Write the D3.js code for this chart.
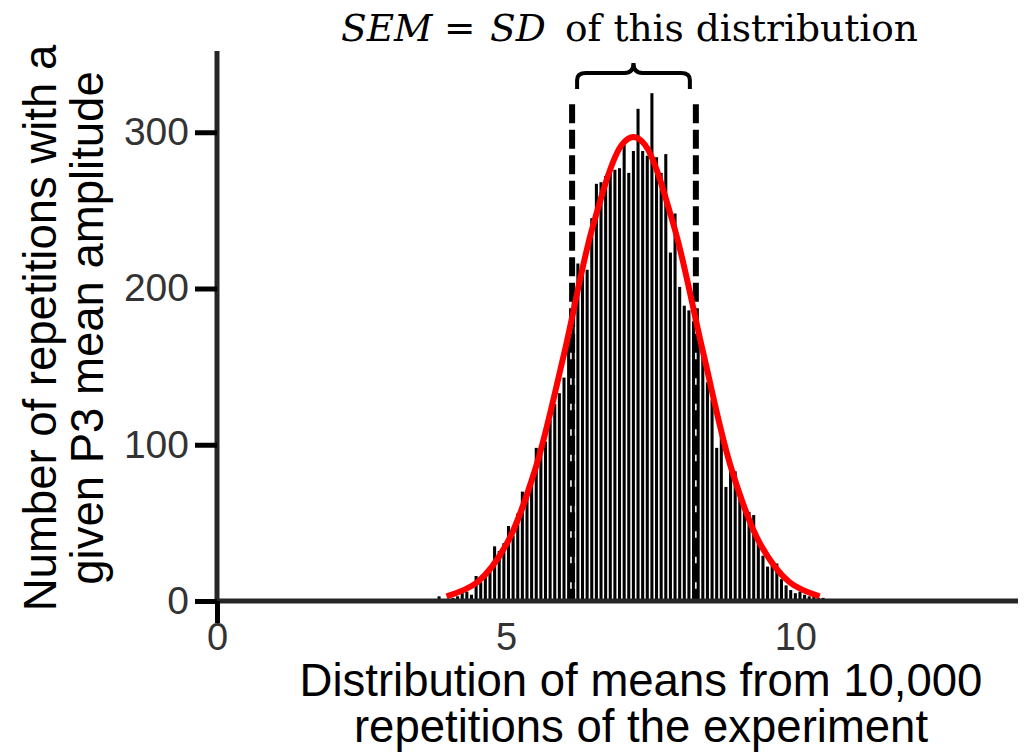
<!DOCTYPE html>
<html>
<head>
<meta charset="utf-8">
<script src="https://cdn.jsdelivr.net/npm/d3@7"></script>
<style>
  html, body { margin: 0; padding: 0; background: #fff; }
  svg { display: block; }
</style>
</head>
<body>
<svg id="chart" width="1024" height="753"></svg>
<script>
// ---- data ----
const binStart = 3.84;      // centre of first bin
const binWidth = 0.08;
const counts = [
  3, 1, 1, 2, 3, 5, 6, 4, 16, 12,
  18, 20, 35, 32, 37, 48, 42, 56, 70, 70,
  78, 98, 99, 102, 116, 126, 133, 143, 176, 192,
  216, 214, 212, 245, 267, 268, 272, 276, 276, 277,
  292, 274, 288, 315, 288, 285, 325, 284, 274, 286,
  223, 248, 201, 189, 186, 179, 166, 158, 140, 129,
  98, 110, 73, 85, 83, 70, 62, 57, 55, 37,
  29, 22, 24, 24, 14, 10, 7, 5, 6, 4,
  3, 3, 2, 2, 1
];
// red fitted curve
const curveX = [3.97, 4.5, 5.0, 5.5, 6.0, 6.5, 7.0, 7.2, 7.4, 7.9, 8.4, 8.9, 9.4, 9.9, 10.42];
const curveY = [3, 12, 36, 84, 158, 240, 292, 297, 292, 240, 160, 84, 36, 12, 3];
// SEM markers (mean +/- SD)
const sdLines = [6.14, 8.28];
const sdLineTop = 318;
const xTicks = [0, 5, 10];
const yTicks = [0, 100, 200, 300];
const xDomain = [0, 13.85];
const yDomain = [0, 352];
const xTitle = ["Distribution of means from 10,000", "repetitions of the experiment"];
const yTitle = ["Number of repetitions with a", "given P3 mean amplitude"];

// ---- drawing ----
const svg = d3.select("#chart");
const x = d3.scaleLinear().domain(xDomain).range([217, 1018]);
const y = d3.scaleLinear().domain(yDomain).range([601, 51]);

const bars = counts.map((c, i) => ({ c: binStart + i * binWidth, v: c }));
const half = binWidth * 0.33;

svg.append("g").selectAll("rect").data(bars).join("rect")
  .attr("x", d => x(d.c - half))
  .attr("width", d => x(d.c + half) - x(d.c - half))
  .attr("y", d => y(d.v))
  .attr("height", d => y(0) - y(d.v))
  .attr("fill", "#000");

// dashed SD lines
svg.append("g").selectAll("line").data(sdLines).join("line")
  .attr("x1", d => x(d)).attr("x2", d => x(d))
  .attr("y1", y(sdLineTop)).attr("y2", y(0))
  .attr("stroke", "#000").attr("stroke-width", 6)
  .attr("stroke-dasharray", "19,6.5");

// red curve
const pts = curveX.map((u, i) => [u, curveY[i]]);
svg.append("path")
  .attr("d", d3.line().x(d => x(d[0])).y(d => y(d[1])).curve(d3.curveCatmullRom.alpha(0.5))(pts))
  .attr("fill", "none").attr("stroke", "#ff0000").attr("stroke-width", 6)
  .attr("stroke-linecap", "butt");

const sans = "'Liberation Sans', Arial, Helvetica, sans-serif";

// axes
const xAxis = svg.append("g").attr("transform", `translate(0,${y(0)})`)
  .call(d3.axisBottom(x).tickValues(xTicks).tickSize(22).tickFormat(d3.format("d")));
xAxis.select(".domain").attr("stroke", "#262626").attr("stroke-width", 5)
  .attr("d", `M${x(0)},0H${x(xDomain[1])}`);
xAxis.selectAll(".tick line").attr("stroke", "#000").attr("stroke-width", 5)
  .attr("opacity", d => d === 0 ? 1 : 0);
xAxis.selectAll(".tick text").attr("fill", "#333")
  .style("font-family", sans).style("font-size", "38px")
  .attr("y", 49).attr("dy", null);

const yAxis = svg.append("g").attr("transform", `translate(${x(0)},0)`)
  .call(d3.axisLeft(y).tickValues(yTicks).tickSize(22).tickPadding(6));
yAxis.select(".domain").attr("stroke", "#262626").attr("stroke-width", 5)
  .attr("d", `M0,${y(yDomain[1])}V${y(0)}`);
yAxis.selectAll(".tick line").attr("stroke", "#000").attr("stroke-width", 5);
yAxis.selectAll(".tick text").attr("fill", "#333")
  .style("font-family", sans).style("font-size", "39px");

// axis titles
const tx = svg.append("text").attr("text-anchor", "middle")
  .style("font-family", sans).style("font-size", "45.5px").attr("fill", "#000");
tx.selectAll("tspan").data(xTitle).join("tspan")
  .attr("x", 641).attr("y", (d, i) => 696 + i * 46).text(d => d);

const ty = svg.append("text").attr("text-anchor", "middle")
  .attr("transform", "translate(0,328) rotate(-90)")
  .style("font-family", sans).style("font-size", "45.5px").attr("fill", "#000");
ty.selectAll("tspan").data(yTitle).join("tspan")
  .attr("x", 0).attr("y", (d, i) => 56 + i * 47).text(d => d);

// title
const title = svg.append("text").attr("y", 41)
  .style("font-family", "'DejaVu Serif', 'Liberation Serif', serif").style("font-size", "37.5px").attr("fill", "#000");
title.append("tspan").attr("x", 341).style("font-style", "italic").text("SEM");
title.append("tspan").attr("x", 444).text("=");
title.append("tspan").attr("x", 490).style("font-style", "italic").text("SD");
title.append("tspan").attr("x", 565).text("of this distribution");

// curly brace over the SD range
const bl = x(sdLines[0]) + 5, br = x(sdLines[1]) - 6, bm = (bl + br) / 2;
const braceTop = 73, braceTip = 63, braceBottom = 89;
svg.append("path")
  .attr("d", `M${bl},${braceBottom} V${braceTop + 7} Q${bl},${braceTop} ${bl + 9},${braceTop}
    H${bm - 9} Q${bm},${braceTop} ${bm},${braceTip} Q${bm},${braceTop} ${bm + 9},${braceTop}
    H${br - 9} Q${br},${braceTop} ${br},${braceTop + 7} V${braceBottom}`)
  .attr("fill", "none").attr("stroke", "#000").attr("stroke-width", 4);
</script>
</body>
</html>
